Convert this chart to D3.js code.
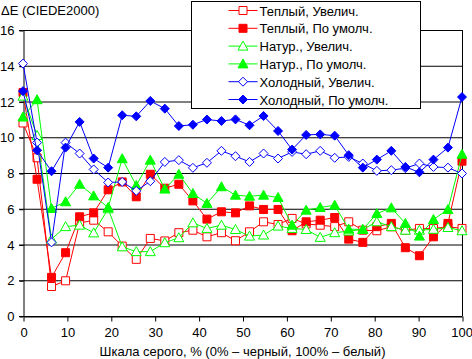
<!DOCTYPE html>
<html>
<head>
<meta charset="utf-8">
<script src="https://cdnjs.cloudflare.com/ajax/libs/d3/7.8.5/d3.min.js"></script>
<style>
  body { margin: 0; background: #fff; }
  text { font-family: "Liberation Sans", Arial, sans-serif; }
</style>
</head>
<body>
<div id="chart"></div>
<script>
// gray level, %
var grayLevels = [0, 3.2, 6.5, 9.7, 12.9, 16.1, 19.4, 22.6, 25.8, 29.0, 32.3, 35.5, 38.7, 41.9, 45.2, 48.4,
  51.6, 54.8, 58.1, 61.3, 64.5, 67.7, 71.0, 74.2, 77.4, 80.6, 83.9, 87.1, 90.3, 93.5, 96.8, 100];

var warmZoom = [10.8, 8.85, 1.65, 1.97, 5.2, 5.36, 4.71, 3.91, 3.17, 4.34, 4.2, 4.66, 4.8, 4.43, 4.66, 4.21,
  4.71, 5.27, 5.12, 5.46, 5.15, 5.08, 5.0, 5.27, 4.8, 4.77, 4.99, 4.8, 4.9, 4.9, 4.99, 4.9];
var warmDefault = [12.5, 7.65, 2.16, 3.54, 5.55, 5.77, 7.06, 7.5, 6.67, 7.93, 7.15, 7.37, 6.44, 5.42, 5.83, 5.77,
  6.16, 5.96, 5.96, 4.77, 5.27, 5.36, 5.51, 4.3, 4.12, 5.0, 5.18, 3.82, 3.37, 4.43, 5.18, 8.66];
var natZoom = [12.3, 10.1, 4.3, 5.0, 5.08, 4.65, 6.0, 3.87, 3.6, 3.6, 4.1, 4.38, 5.21, 4.9, 5.08, 4.84,
  4.47, 4.53, 5.03, 4.9, 4.84, 4.4, 4.66, 4.75, 4.84, 5.27, 5.0, 4.8, 4.8, 4.85, 4.95, 4.77];
var natDefault = [11.13, 12.1, 6.02, 6.39, 7.37, 6.72, 6.07, 8.8, 7.3, 8.72, 7.1, 7.93, 6.85, 6.3, 7.23, 6.76,
  6.7, 6.76, 6.63, 5.08, 5.92, 6.07, 6.2, 4.86, 4.84, 5.73, 6.05, 5.18, 4.47, 5.4, 5.96, 9.05];
var coldZoom = [14.12, 9.7, 4.12, 9.7, 9.09, 8.2, 7.47, 7.5, 7.0, 7.54, 8.62, 8.72, 8.29, 8.57, 9.24, 8.94,
  8.62, 9.09, 8.81, 9.18, 9.05, 9.24, 8.85, 8.9, 8.53, 8.12, 8.16, 8.27, 8.53, 8.34, 8.3, 7.97];
var coldDefault = [12.58, 9.27, 8.1, 9.42, 10.86, 8.81, 8.3, 11.23, 11.17, 12.03, 11.6, 10.63, 10.7, 10.99, 10.91, 11.0,
  10.67, 11.19, 10.35, 9.31, 10.13, 10.16, 10.09, 9.0, 8.3, 8.75, 9.24, 8.34, 8.04, 8.75, 9.42, 12.25];

var seriesNames = ["Теплый, Увелич.", "Теплый, По умолч.", "Натур., Увелич.", "Натур., По умолч.",
  "Холодный, Увелич.", "Холодный, По умолч."];

var xTicks = [0, 10, 20, 30, 40, 50, 60, 70, 80, 90, 100];
var yTicks = [0, 2, 4, 6, 8, 10, 12, 14, 16];

var series = [
  { name: seriesNames[0], values: warmZoom, color: "#ff0000", shape: "square", filled: false },
  { name: seriesNames[1], values: warmDefault, color: "#ff0000", shape: "square", filled: true },
  { name: seriesNames[2], values: natZoom, color: "#00ff00", shape: "triangle", filled: false },
  { name: seriesNames[3], values: natDefault, color: "#00ff00", shape: "triangle", filled: true },
  { name: seriesNames[4], values: coldZoom, color: "#0000ff", shape: "diamond", filled: false },
  { name: seriesNames[5], values: coldDefault, color: "#0000ff", shape: "diamond", filled: true }
];

var svgWidth = 472;
var svgHeight = 359;
var margin = { top: 30, right: 10, bottom: 43, left: 23 };
var chartWidth = svgWidth - margin.left - margin.right;
var chartHeight = svgHeight - margin.top - margin.bottom;

var svg = d3.select("#chart")
  .append("svg")
  .attr("width", svgWidth)
  .attr("height", svgHeight);

var chartGroup = svg.append("g")
  .attr("transform", `translate(${margin.left}, ${margin.top})`);

var xScale = d3.scaleLinear().domain([0, 100]).range([0, chartWidth]);
var yScale = d3.scaleLinear().domain([0, 16]).range([chartHeight, 0]);

// grid lines
chartGroup.selectAll(".grid")
  .data(yTicks)
  .enter()
  .append("line")
  .attr("x1", -4)
  .attr("x2", chartWidth)
  .attr("y1", d => yScale(d) + 0.5)
  .attr("y2", d => yScale(d) + 0.5)
  .attr("stroke", "#000");

// right border
chartGroup.append("line")
  .attr("x1", chartWidth + 0.5).attr("x2", chartWidth + 0.5)
  .attr("y1", 0).attr("y2", chartHeight)
  .attr("stroke", "#000");

// axes
var bottomAxis = d3.axisBottom(xScale).tickValues(xTicks).tickSize(5).tickSizeOuter(0);
var leftAxis = d3.axisLeft(yScale).tickValues(yTicks).tickSize(4).tickSizeOuter(0);

var xAxisG = chartGroup.append("g")
  .attr("transform", `translate(0.5, ${chartHeight + 0.5})`)
  .call(bottomAxis);
xAxisG.selectAll("text").attr("font-size", "13px").attr("fill", "#000").attr("dy", "0.95em");
// keep "100" inside the window
xAxisG.selectAll("text").filter(d => d === 100).attr("text-anchor", "end").attr("x", 10);

var yAxisG = chartGroup.append("g")
  .attr("transform", "translate(0.5, 0.5)")
  .call(leftAxis);
yAxisG.selectAll("text").attr("font-size", "13px").attr("fill", "#000").attr("x", -9);
chartGroup.selectAll(".domain").attr("stroke", "#000");
chartGroup.selectAll(".tick line").attr("stroke", "#000");

// marker shapes
function markerPath(shape) {
  if (shape === "square") return "M-4,-4H4V4H-4Z";
  if (shape === "triangle") return "M0,-5L5,4H-5Z";
  return "M0,-4.5L4.5,0L0,4.5L-4.5,0Z";
}

var line = d3.line()
  .x((d, i) => xScale(grayLevels[i]))
  .y(d => yScale(d));

series.forEach(function(s) {
  chartGroup.append("path")
    .datum(s.values)
    .attr("d", line)
    .attr("fill", "none")
    .attr("stroke", s.color)
    .attr("stroke-width", 1);

  chartGroup.selectAll(null)
    .data(s.values)
    .enter()
    .append("path")
    .attr("d", markerPath(s.shape))
    .attr("transform", (d, i) => `translate(${xScale(grayLevels[i])}, ${yScale(d)})`)
    .attr("fill", s.filled ? s.color : "#fff")
    .attr("stroke", s.color)
    .attr("stroke-width", 1);
});

// title
svg.append("text")
  .attr("x", 1)
  .attr("y", 15)
  .attr("font-size", "13px")
  .text("ΔE (CIEDE2000)");

svg.append("text")
  .attr("x", margin.left + chartWidth / 2)
  .attr("y", 356)
  .attr("text-anchor", "middle")
  .attr("font-size", "13px")
  .text("Шкала серого, % (0% – черный, 100% – белый)");

// legend
var legend = svg.append("g").attr("transform", "translate(191.5, 1.5)");
legend.append("rect")
  .attr("width", 229)
  .attr("height", 107)
  .attr("fill", "#fff")
  .attr("stroke", "#000");

var items = legend.selectAll(".item")
  .data(series)
  .enter()
  .append("g")
  .attr("transform", (d, i) => `translate(0, ${9 + i * 17.8})`);

items.append("line")
  .attr("x1", 37).attr("x2", 66)
  .attr("stroke", d => d.color);
items.append("path")
  .attr("d", d => markerPath(d.shape))
  .attr("transform", "translate(51.5, 0)")
  .attr("fill", d => d.filled ? d.color : "#fff")
  .attr("stroke", d => d.color);
items.append("text")
  .attr("x", 68)
  .attr("y", 5)
  .attr("font-size", "13px")
  .text(d => d.name);
</script>
</body>
</html>
